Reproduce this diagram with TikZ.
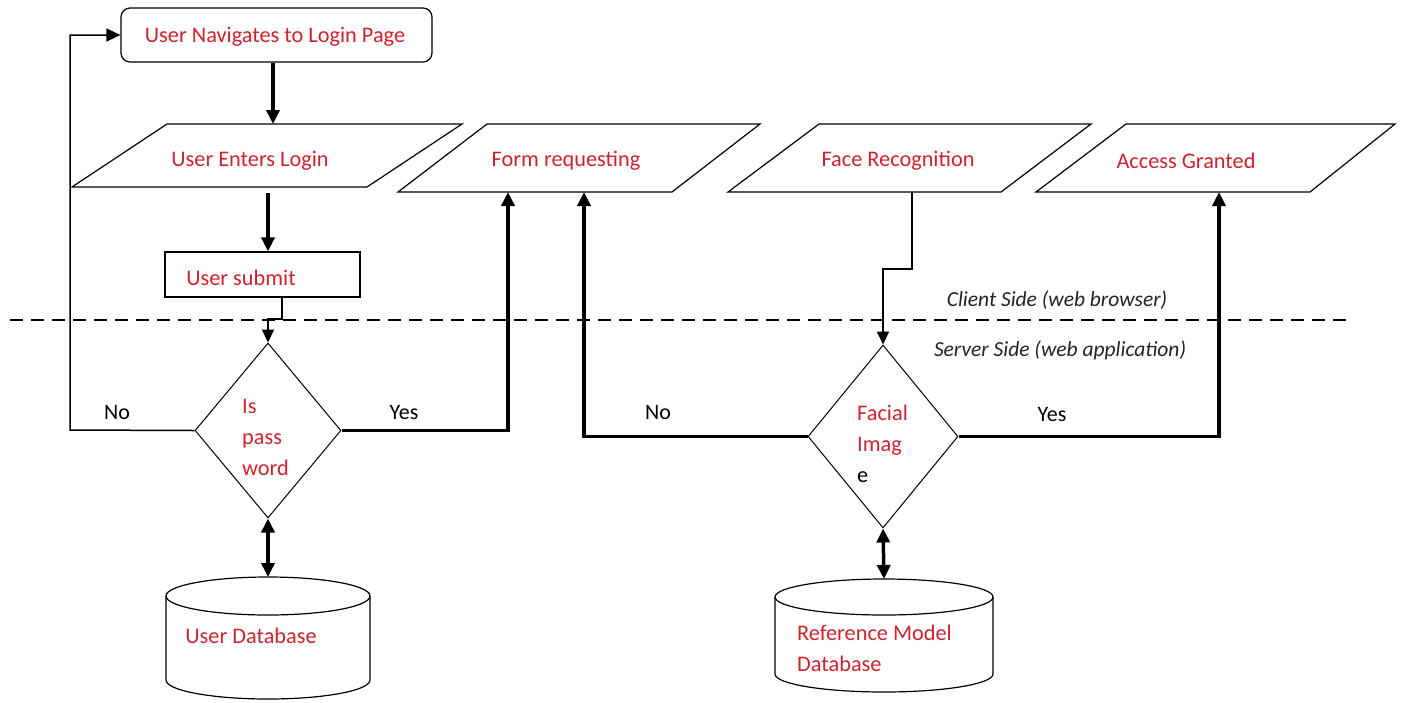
\documentclass[tikz,border=0pt]{standalone}
\usepackage{fontspec}
\setmainfont{Carlito}
\usetikzlibrary{arrows.meta,shapes.geometric}
\definecolor{redc}{RGB}{205,35,45}
\definecolor{grayc}{RGB}{35,35,35}
\begin{document}
\begin{tikzpicture}[x=1pt,y=-1pt,
  txt/.style={font=\fontsize{22.3}{31}\selectfont, text=redc, inner sep=0pt},
  lbl/.style={font=\fontsize{22}{25}\selectfont, text=black, inner sep=0pt},
  sidelbl/.style={font=\fontsize{21.5}{25}\selectfont\itshape, text=grayc, inner sep=0pt},
  box/.style={draw, line width=1.2pt},
  dia/.style={draw, shape=diamond, line width=1pt, inner sep=0pt},
  thk/.style={line width=3.5pt, -{Triangle[length=14pt,width=13pt]}},
  dbl/.style={line width=3.5pt, {Triangle[length=14pt,width=13pt]}-{Triangle[length=14pt,width=13pt]}},
  thn/.style={line width=1.8pt, -{Triangle[length=13pt,width=12pt]}},
  thnline/.style={line width=1.5pt, -{Triangle[length=14pt,width=13pt]}}]
\path[use as bounding box] (0,0) rectangle (1407,702);

% top rounded box
\node[box, rounded corners=9pt, minimum width=311pt, minimum height=54pt, inner sep=0pt] (nav) at (276.5,35) {};
\node[txt] (navt) at (275,37) {User Navigates to Login Page};

% parallelograms
\draw[box] (167,124) -- (462,124) -- (367,187) -- (72,187) -- cycle;
\node[txt] (enter) at (250,161) {User Enters Login};
\coordinate (enterT) at (273,124);
\coordinate (enterB) at (268,193);

\draw[box] (487,124) -- (760,124) -- (672,192) -- (398,192) -- cycle;
\node[txt] (form) at (566,161) {Form requesting};
\coordinate (formB1) at (508,192);
\coordinate (formB2) at (584,192);

\draw[box] (819,124) -- (1091,124) -- (1001,192) -- (728,192) -- cycle;
\node[txt] (face) at (898,161) {Face Recognition};
\coordinate (faceB) at (912,192);

\draw[box] (1126,124) -- (1395,124) -- (1310,192) -- (1036,192) -- cycle;
\node[txt] (access) at (1186,161) {Access Granted};
\coordinate (accessB) at (1219,192);

% user submit
\node[box, minimum width=195pt, minimum height=45pt, inner sep=0pt] (submit) at (262.5,274.5) {};
\node[txt] (submitt) at (241,278) {User submit};

% dashed separator
\coordinate (dl) at (10,320);
\coordinate (dr) at (1350,320);
\draw[line width=2.8pt, dash pattern=on 13pt off 8pt] (dl) -- (dr);
\node[sidelbl] (client) at (1057,300) {Client Side (web browser)};
\node[sidelbl] (server) at (1060,350) {Server Side (web application)};

% diamonds
\node[dia, minimum width=146pt, minimum height=175pt] (pw) at (268,430.5) {};
\node[txt, anchor=west, align=left] (pwt) at (242,437) {Is\\pass\\word};
\node[dia, minimum width=150pt, minimum height=183pt] (fac) at (883,436.5) {};
\node[txt, anchor=west, align=left] (fact) at (857,444) {Facial\\Imag\\{\color{black}e}};

% databases
\draw[box] (268,596) ellipse[x radius=102pt, y radius=19pt];
\draw[box] (166,596) -- (166,680) arc[start angle=180, end angle=360, x radius=102pt, y radius=19pt] -- (370,596);
\coordinate (db1T) at (268,577);
\node[txt] (db1) at (251,636) {User Database};

\draw[box] (884,597) ellipse[x radius=109pt, y radius=18pt];
\draw[box] (775,597) -- (775,674) arc[start angle=180, end angle=360, x radius=109pt, y radius=18pt] -- (993,597);
\coordinate (db2T) at (884,579);
\node[txt, anchor=west, align=left] (db2) at (797,648) {Reference Model\\Database};

% connectors
\draw[thk] (nav.south -| enterT) -- (enterT);
\draw[thk] (enterB) -- (enterB |- submit.north);
\draw[thn] ([xshift=19.5pt]submit.south) -- ++(0,21) -| (pw.north);
\draw[thnline] (pw.west) -- (70,430) |- (nav.west);
\draw[thk] (pw.east) -| (formB1);
\draw[dbl] (pw.south) -- (db1T);
\draw[thn] (faceB) -- (912,269) -| (fac.north);
\draw[thk] (fac.west) -| (formB2);
\draw[thk] (fac.east) -| (accessB);
\draw[dbl] (fac.south) -- (db2T);

% labels
\node[lbl] (no1) at (117,413) {No};
\node[lbl] (yes1) at (404,413) {Yes};
\node[lbl] (no2) at (658,413) {No};
\node[lbl] (yes2) at (1052,415) {Yes};
\end{tikzpicture}
\end{document}
